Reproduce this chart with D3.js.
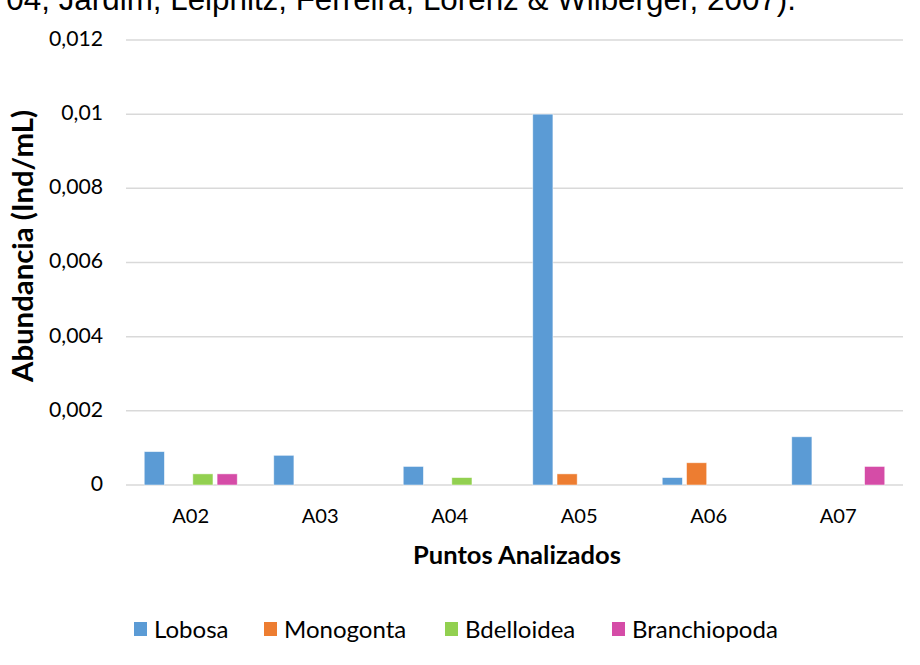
<!DOCTYPE html>
<meta charset="utf-8">
<style>
  body { margin: 0; background: #fff; }
  text { font-family: Lato, "Open Sans", sans-serif; }
</style>
<body id="chart"></body>
<script src="https://cdn.jsdelivr.net/npm/d3@7"></script>
<script>
// data
var puntos = ["A02", "A03", "A04", "A05", "A06", "A07"];
var series = ["Lobosa", "Monogonta", "Bdelloidea", "Branchiopoda"];
var colores = ["#5B9BD5", "#ED7D31", "#92D050", "#D54CA7"];
var lobosa       = [0.0009, 0.0008, 0.0005, 0.01,   0.0002, 0.0013];
var monogonta    = [0,      0,      0,      0.0003, 0.0006, 0];
var bdelloidea   = [0.0003, 0,      0.0002, 0,      0,      0];
var branchiopoda = [0.0003, 0,      0,      0,      0,      0.0005];
var yTicks = [0, 0.002, 0.004, 0.006, 0.008, 0.01, 0.012];
var yLabels = ["0", "0,002", "0,004", "0,006", "0,008", "0,01", "0,012"];

var valores = [lobosa, monogonta, bdelloidea, branchiopoda];

var width = 920, height = 665;
var margin = {top: 40, right: 17, bottom: 180, left: 126};
var plotW = width - margin.left - margin.right,
    plotH = height - margin.top - margin.bottom;

var svg = d3.select("#chart").append("svg")
    .attr("width", width)
    .attr("height", height);

// width of a string at 20px
function measure(str, family, weight) {
    var t = svg.append("text")
        .style("font-family", family)
        .style("font-weight", weight || "normal")
        .style("font-size", "20px")
        .text(str);
    var len = t.node().getComputedTextLength();
    t.remove();
    return len;
}
// font size that makes a string about w pixels wide
function fitSize(str, w, family, weight) {
    return 20 * w / measure(str, family, weight);
}

var sans = "Lato, 'Open Sans', sans-serif";
var tickSize = fitSize("0,012", 54, sans);
var catSize = fitSize("A02", 37, sans);
var xTitleSize = fitSize("Puntos Analizados", 208, sans, "bold");
var yTitleSize = fitSize("Abundancia (Ind/mL)", 272, sans, "bold");
var legSize = fitSize("Branchiopoda", 146, sans);

// leftover text line from the document above the chart (cut by the top edge)
var arial = "'Liberation Sans', Arial, sans-serif";
var topSize = fitSize("Jardim, Leipnitz, Ferreira, Lorenz & ", 490, arial);
var topStart = 50 - measure("04, ", arial) * topSize / 20;
svg.append("text")
    .attr("x", topStart)
    .attr("y", 9.5)
    .style("font-family", arial)
    .style("font-size", topSize + "px")
    .attr("fill", "#000")
    .text("04, Jardim, Leipnitz, Ferreira, Lorenz & Wilberger, 2007).");

var g = svg.append("g")
    .attr("transform", "translate(" + margin.left + "," + margin.top + ")");

var x0 = d3.scaleBand().domain(puntos).range([0, plotW]);
var groupW = 93;
var x1 = d3.scaleBand().domain(series).range([0, groupW]).paddingInner(0.17);
var y = d3.scaleLinear().domain([0, 0.012]).range([plotH, 0]);

// gridlines
g.append("g")
    .selectAll("line")
    .data(yTicks)
    .enter().append("line")
    .attr("x1", 0)
    .attr("x2", plotW)
    .attr("y1", function (d) { return y(d); })
    .attr("y2", function (d) { return y(d); })
    .attr("stroke", "#D9D9D9")
    .attr("stroke-width", 1.5);

// y tick labels
g.append("g")
    .selectAll("text")
    .data(yTicks)
    .enter().append("text")
    .attr("x", -23)
    .attr("y", function (d) { return y(d) - 1.5; })
    .attr("dy", "0.35em")
    .attr("text-anchor", "end")
    .style("font-size", tickSize + "px")
    .attr("fill", "#000")
    .text(function (d, i) { return yLabels[i]; });

// bars
var grupos = g.append("g")
    .selectAll("g")
    .data(puntos)
    .enter().append("g")
    .attr("transform", function (d) {
        return "translate(" + (x0(d) + (x0.bandwidth() - groupW) / 2) + ",0)";
    });

grupos.selectAll("rect")
    .data(function (d, i) {
        return series.map(function (s, k) { return {s: s, k: k, v: valores[k][i]}; });
    })
    .enter().filter(function (d) { return d.v > 0; })
    .append("rect")
    .attr("x", function (d) { return x1(d.s); })
    .attr("y", function (d) { return y(d.v); })
    .attr("width", x1.bandwidth())
    .attr("height", function (d) { return plotH - y(d.v); })
    .attr("fill", function (d) { return colores[d.k]; })
    .attr("stroke", "#fff")
    .attr("stroke-opacity", 0.6)
    .attr("stroke-width", 0.8);

// category labels
g.append("g")
    .selectAll("text")
    .data(puntos)
    .enter().append("text")
    .attr("x", function (d) { return x0(d) + x0.bandwidth() / 2; })
    .attr("y", plotH + 38)
    .attr("text-anchor", "middle")
    .style("font-size", catSize + "px")
    .attr("fill", "#000")
    .text(function (d) { return d; });

// axis titles
svg.append("text")
    .attr("x", 517)
    .attr("y", 564)
    .attr("text-anchor", "middle")
    .style("font-size", xTitleSize + "px")
    .style("font-weight", "bold")
    .attr("fill", "#000")
    .text("Puntos Analizados");

svg.append("text")
    .attr("transform", "translate(33,246) rotate(-90)")
    .attr("text-anchor", "middle")
    .style("font-size", yTitleSize + "px")
    .style("font-weight", "bold")
    .attr("fill", "#000")
    .text("Abundancia (Ind/mL)");

// legend
var legX = [134, 264, 445, 612];
var leg = svg.append("g")
    .selectAll("g")
    .data(series)
    .enter().append("g")
    .attr("transform", function (d, i) { return "translate(" + legX[i] + ",622)"; });

leg.append("rect")
    .attr("width", 13)
    .attr("height", 14)
    .attr("fill", function (d, i) { return colores[i]; });

leg.append("text")
    .attr("x", 20)
    .attr("y", 7)
    .attr("dy", "0.36em")
    .style("font-size", legSize + "px")
    .attr("fill", "#000")
    .text(function (d) { return d; });
</script>
